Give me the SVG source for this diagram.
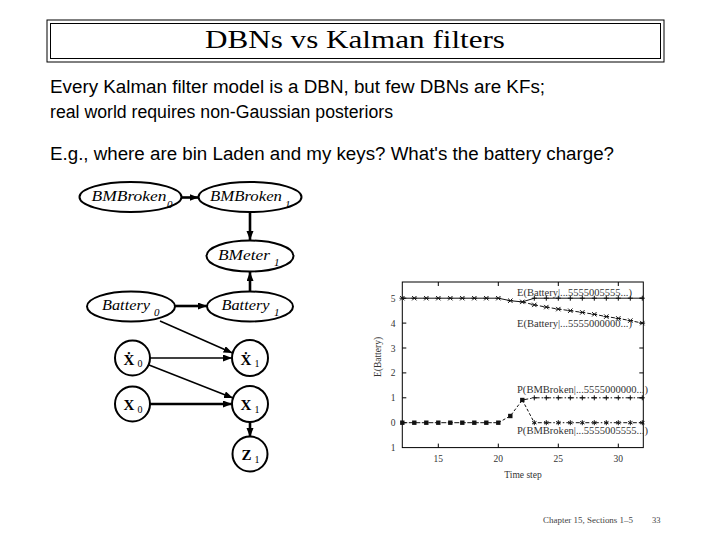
<svg xmlns="http://www.w3.org/2000/svg" width="720" height="540" viewBox="0 0 720 540">
<style>
.node{fill:#fff;stroke:#000;stroke-width:2}
.lbl{font-family:"Liberation Serif","DejaVu Serif",serif;font-style:italic;font-size:15px;fill:#000}
.sub{font-family:"Liberation Serif","DejaVu Serif",serif;font-style:italic;font-size:11px;fill:#000}
.bx{font-family:"Liberation Serif","DejaVu Serif",serif;font-weight:bold;font-size:15px;fill:#000}
.bsub{font-family:"Liberation Serif","DejaVu Serif",serif;font-size:10px;fill:#000}
.body{font-family:"Liberation Sans","DejaVu Sans",sans-serif;font-size:18px;fill:#000}
.ptxt{font-family:"Liberation Serif","DejaVu Serif",serif;font-size:9.5px;fill:#333}
.thick{stroke:#000;stroke-width:2.6;fill:none}
.thin{stroke:#000;stroke-width:1.5;fill:none}
.ax{stroke:#000;stroke-width:1;fill:none}
.cur{stroke:#111;stroke-width:1;fill:none}
</style>
<defs>
<marker id="ah" markerUnits="userSpaceOnUse" markerWidth="10" markerHeight="8" refX="9" refY="3.5" orient="auto">
<path d="M0,0 L9,3.5 L0,7 z" fill="#000"/>
</marker>
<path id="xm" d="M-2.2,-2.2 L2.2,2.2 M-2.2,2.2 L2.2,-2.2 M-2.8,0 L2.8,0" stroke="#111" stroke-width="1" fill="none"/>
<path id="pm" d="M0,-2.5 L0,2.5 M-2.5,0 L2.5,0" stroke="#111" stroke-width="1" fill="none"/>
<rect id="sq" x="-2.2" y="-2.2" width="4.4" height="4.4" fill="#111"/>
<path id="st" d="M0,-2.5 L0,2.5 M-2.2,-1.3 L2.2,1.3 M-2.2,1.3 L2.2,-1.3" stroke="#111" stroke-width="1" fill="none"/>
</defs>
<rect width="720" height="540" fill="#fff"/>

<g id="title">
<rect x="47" y="20" width="617" height="42" fill="none" stroke="#000" stroke-width="1"/>
<rect x="50.5" y="23.5" width="610" height="35" fill="none" stroke="#000" stroke-width="1"/>
<text x="355" y="48" text-anchor="middle" font-family="Liberation Serif, DejaVu Serif, serif" font-size="26" textLength="300" lengthAdjust="spacingAndGlyphs">DBNs vs Kalman filters</text>
</g>

<g id="text">
<text class="body" x="50" y="93" textLength="495" lengthAdjust="spacingAndGlyphs">Every Kalman filter model is a DBN, but few DBNs are KFs;</text>
<text class="body" x="50" y="118" textLength="343" lengthAdjust="spacingAndGlyphs">real world requires non-Gaussian posteriors</text>
<text class="body" x="50" y="160" textLength="564" lengthAdjust="spacingAndGlyphs">E.g., where are bin Laden and my keys? What's the battery charge?</text>
</g>

<g id="connectors">
<line class="thick" x1="181.5" y1="197.5" x2="198.5" y2="197.5" marker-end="url(#ah)"/>
<line class="thick" x1="250" y1="212" x2="250" y2="240" marker-end="url(#ah)"/>
<line class="thick" x1="250" y1="291" x2="250" y2="272" marker-end="url(#ah)"/>
<line class="thick" x1="175" y1="306" x2="207" y2="306" marker-end="url(#ah)"/>
<line class="thin" x1="160" y1="321" x2="232.5" y2="353" marker-end="url(#ah)"/>
<line class="thin" x1="150" y1="358" x2="232" y2="358" marker-end="url(#ah)"/>
<line class="thin" x1="149" y1="365" x2="233" y2="398" marker-end="url(#ah)"/>
<line class="thick" x1="150" y1="404" x2="232" y2="404" marker-end="url(#ah)"/>
<line class="thick" x1="250" y1="422" x2="250" y2="437" marker-end="url(#ah)"/>
</g>

<g id="BMBroken0">
<ellipse class="node" cx="130.5" cy="197" rx="51" ry="15"/>
<text class="lbl" x="91.5" y="201" textLength="75" lengthAdjust="spacingAndGlyphs">BMBroken</text>
<text class="sub" x="167" y="208">0</text>
</g>
<g id="BMBroken1">
<ellipse class="node" cx="250" cy="197" rx="51.5" ry="15"/>
<text class="lbl" x="210" y="201" textLength="72" lengthAdjust="spacingAndGlyphs">BMBroken</text>
<text class="sub" x="285" y="208">1</text>
</g>
<g id="BMeter1">
<ellipse class="node" cx="250" cy="256" rx="43.5" ry="15.5"/>
<text class="lbl" x="218" y="260" textLength="52" lengthAdjust="spacingAndGlyphs">BMeter</text>
<text class="sub" x="274" y="266">1</text>
</g>
<g id="Battery0">
<ellipse class="node" cx="131" cy="306.5" rx="44" ry="15"/>
<text class="lbl" x="102" y="310" textLength="48" lengthAdjust="spacingAndGlyphs">Battery</text>
<text class="sub" x="154" y="316">0</text>
</g>
<g id="Battery1">
<ellipse class="node" cx="250" cy="306.5" rx="43" ry="15"/>
<text class="lbl" x="221.5" y="310" textLength="48" lengthAdjust="spacingAndGlyphs">Battery</text>
<text class="sub" x="274" y="316">1</text>
</g>
<g id="Xdot0">
<circle class="node" cx="132.5" cy="358" r="17.5"/>
<text class="bx" x="123.5" y="365">Ẋ</text>
<text class="bsub" x="137.5" y="367">0</text>
</g>
<g id="Xdot1">
<circle class="node" cx="250" cy="358" r="18"/>
<text class="bx" x="240.5" y="365">Ẋ</text>
<text class="bsub" x="254.5" y="367">1</text>
</g>
<g id="X0">
<circle class="node" cx="132.5" cy="404" r="17.5"/>
<text class="bx" x="123.5" y="410">X</text>
<text class="bsub" x="137.5" y="413">0</text>
</g>
<g id="X1">
<circle class="node" cx="250" cy="404" r="18"/>
<text class="bx" x="240.5" y="410">X</text>
<text class="bsub" x="254.5" y="413">1</text>
</g>
<g id="Z1">
<circle class="node" cx="250" cy="454" r="17.5"/>
<text class="bx" x="241.5" y="460">Z</text>
<text class="bsub" x="254.5" y="463">1</text>
</g>

<g id="plot">
<rect class="ax" x="402.3" y="282" width="241" height="165.6"/>
<g class="ax">
<path d="M402.3,298.2h4 M402.3,323.1h4 M402.3,348h4 M402.3,372.9h4 M402.3,397.8h4 M402.3,422.7h4 M643.3,298.2h-4 M643.3,323.1h-4 M643.3,348h-4 M643.3,372.9h-4 M643.3,397.8h-4 M643.3,422.7h-4"/>
<path d="M438.3,447.6v-4 M498.3,447.6v-4 M558.3,447.6v-4 M618.3,447.6v-4 M438.3,282v4 M498.3,282v4 M558.3,282v4 M618.3,282v4"/>
</g>
<g class="ptxt" text-anchor="middle">
<text x="393" y="301.5">5</text>
<text x="393" y="326.5">4</text>
<text x="393" y="351.5">3</text>
<text x="393" y="376">2</text>
<text x="393" y="401">1</text>
<text x="393" y="426">0</text>
<text x="393" y="451">1</text>
<text x="438.3" y="462">15</text>
<text x="498.3" y="462">20</text>
<text x="558.3" y="462">25</text>
<text x="618.3" y="462">30</text>
<text x="523" y="477.5">Time step</text>
<text transform="translate(381,357) rotate(-90)">E(Battery)</text>
</g>
<!-- E(Battery | ...5555005555...) solid -->
<polyline class="cur" points="402.3,298.2 414.3,298.2 426.3,298.2 438.3,298.2 450.3,298.2 462.3,298.2 474.3,298.2 486.3,298.2 498.3,298.2 510.3,300.7 522.3,301.9 534.3,298.2 546.3,298.2 558.3,298.2 570.3,298.2 582.3,298.2 594.3,298.2 606.3,298.2 618.3,298.2 630.3,298.2 642.3,298.2"/>
<!-- E(Battery | ...5555000000...) dashed -->
<polyline class="cur" stroke-dasharray="4,2" points="522.3,301.9 534.3,304.9 546.3,307.1 558.3,309.1 570.3,310.7 582.3,312.4 594.3,314.3 606.3,316.6 618.3,318.4 630.3,320.6 642.3,323.1"/>
<g>
<use href="#xm" x="402.3" y="298.2"/><use href="#xm" x="414.3" y="298.2"/><use href="#xm" x="426.3" y="298.2"/><use href="#xm" x="438.3" y="298.2"/><use href="#xm" x="450.3" y="298.2"/><use href="#xm" x="462.3" y="298.2"/><use href="#xm" x="474.3" y="298.2"/><use href="#xm" x="486.3" y="298.2"/><use href="#xm" x="498.3" y="298.2"/><use href="#xm" x="510.3" y="300.7"/><use href="#xm" x="522.3" y="301.9"/>
<use href="#pm" x="534.3" y="298.2"/><use href="#pm" x="546.3" y="298.2"/><use href="#pm" x="558.3" y="298.2"/><use href="#pm" x="570.3" y="298.2"/><use href="#pm" x="582.3" y="298.2"/><use href="#pm" x="594.3" y="298.2"/><use href="#pm" x="606.3" y="298.2"/><use href="#pm" x="618.3" y="298.2"/><use href="#pm" x="630.3" y="298.2"/><use href="#pm" x="642.3" y="298.2"/>
<use href="#xm" x="534.3" y="304.9"/><use href="#xm" x="546.3" y="307.1"/><use href="#xm" x="558.3" y="309.1"/><use href="#xm" x="570.3" y="310.7"/><use href="#xm" x="582.3" y="312.4"/><use href="#xm" x="594.3" y="314.3"/><use href="#xm" x="606.3" y="316.6"/><use href="#xm" x="618.3" y="318.4"/><use href="#xm" x="630.3" y="320.6"/><use href="#xm" x="642.3" y="323.1"/>
</g>
<!-- P(BMBroken) curves -->
<polyline class="cur" stroke-dasharray="5,1.5" points="402.3,422.7 414.3,422.7 426.3,422.7 438.3,422.7 450.3,422.7 462.3,422.7 474.3,422.7 486.3,422.7 498.3,422.7"/>
<polyline class="cur" stroke-dasharray="3,2" points="498.3,422.7 510.3,416 522.3,400"/>
<polyline class="cur" stroke-dasharray="6,2,1.5,2" points="522.3,400 534.3,397.8 546.3,397.8 558.3,397.8 570.3,397.8 582.3,397.8 594.3,397.8 606.3,397.8 618.3,397.8 630.3,397.8 642.3,397.8"/>
<polyline class="cur" stroke-dasharray="3,2" points="522.3,400 534.3,422.7"/>
<polyline class="cur" stroke-dasharray="1.5,2,4,2" points="534.3,422.7 546.3,422.7 558.3,422.7 570.3,422.7 582.3,422.7 594.3,422.7 606.3,422.7 618.3,422.7 630.3,422.7 642.3,422.7"/>
<g>
<use href="#sq" x="402.3" y="422.7"/><use href="#sq" x="414.3" y="422.7"/><use href="#sq" x="426.3" y="422.7"/><use href="#sq" x="438.3" y="422.7"/><use href="#sq" x="450.3" y="422.7"/><use href="#sq" x="462.3" y="422.7"/><use href="#sq" x="474.3" y="422.7"/><use href="#sq" x="486.3" y="422.7"/><use href="#sq" x="498.3" y="422.7"/><use href="#sq" x="510.3" y="416"/><use href="#sq" x="522.3" y="400"/>
<use href="#pm" x="534.3" y="397.8"/><use href="#pm" x="546.3" y="397.8"/><use href="#pm" x="558.3" y="397.8"/><use href="#pm" x="570.3" y="397.8"/><use href="#pm" x="582.3" y="397.8"/><use href="#pm" x="594.3" y="397.8"/><use href="#pm" x="606.3" y="397.8"/><use href="#pm" x="618.3" y="397.8"/><use href="#pm" x="630.3" y="397.8"/><use href="#pm" x="642.3" y="397.8"/>
<use href="#st" x="534.3" y="422.7"/><use href="#st" x="546.3" y="422.7"/><use href="#st" x="558.3" y="422.7"/><use href="#st" x="570.3" y="422.7"/><use href="#st" x="582.3" y="422.7"/><use href="#st" x="594.3" y="422.7"/><use href="#st" x="606.3" y="422.7"/><use href="#st" x="618.3" y="422.7"/><use href="#st" x="630.3" y="422.7"/><use href="#st" x="642.3" y="422.7"/>
</g>
<g class="ptxt">
<text x="517" y="295.5" textLength="115" lengthAdjust="spacingAndGlyphs">E(Battery|...5555005555...)</text>
<text x="517" y="326.5" textLength="115" lengthAdjust="spacingAndGlyphs">E(Battery|...5555000000...)</text>
<text x="517" y="393" textLength="131" lengthAdjust="spacingAndGlyphs">P(BMBroken|...5555000000...)</text>
<text x="517" y="433.5" textLength="131" lengthAdjust="spacingAndGlyphs">P(BMBroken|...5555005555...)</text>
</g>
</g>

<g id="footer" font-family="Liberation Serif, DejaVu Serif, serif" font-size="8.5" fill="#444">
<text x="543" y="523" textLength="90" lengthAdjust="spacingAndGlyphs">Chapter 15, Sections 1–5</text>
<text x="652" y="523">33</text>
</g>
</svg>
